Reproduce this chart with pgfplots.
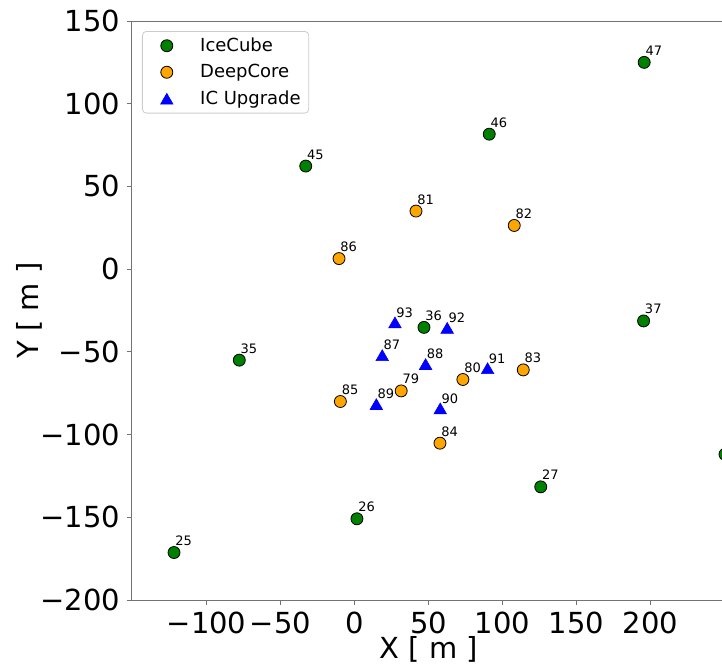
\documentclass[border=0pt]{standalone}
\usepackage{pgfplots}
\pgfplotsset{compat=1.18}
\usepackage{fontspec}
\setmainfont{DejaVu Sans}
\definecolor{mplgreen}{HTML}{008000}
\definecolor{mplorange}{HTML}{FFA500}
\definecolor{mplblue}{HTML}{0000FF}

\pgfplotstableread{
x y lab
-122.0 -171.3 25
1.6 -150.9 26
125.8 -131.6 27
-77.9 -55.0 35
46.9 -35.2 36
195.3 -31.3 37
-33.0 62.3 45
91.0 81.6 46
195.7 125.0 47
}\icecube

% string 38 sits on the cropped right edge, its label is outside the picture
\pgfplotstableread{
x y
250.3 -111.9
}\icecubeedge

\pgfplotstableread{
x y lab
31.5 -73.6 79
73.2 -66.7 80
41.5 35.1 81
107.9 26.4 82
114.0 -60.9 83
57.7 -105.2 84
-9.6 -80.0 85
-10.5 6.4 86
}\deepcore

\pgfplotstableread{
x y lab
18.7 -52.0 87
48.0 -57.4 88
14.7 -81.6 89
57.9 -84.2 90
89.9 -59.9 91
62.6 -35.5 92
27.3 -32.2 93
}\upgrade

\begin{document}
\begin{tikzpicture}
\begin{axis}[
  at={(0,0)}, anchor=south west,
  scale only axis, width=297pt, height=289.5pt,
  xmin=-150.4, xmax=251, ymin=-200, ymax=150,
  axis line style={black!55, line width=0.5pt},
  tick align=outside, tick pos=left,
  major tick length=2.5pt,
  tick style={black!55, line width=0.5pt},
  xtick={-100,-50,0,50,100,150,200},
  xticklabels={−100,−50,0,50,100,150,200},
  ytick={-200,-150,-100,-50,0,50,100,150},
  yticklabels={−200,−150,−100,−50,0,50,100,150},
  ticklabel style={font=\fontsize{14.5}{17}\selectfont},
  label style={font=\fontsize{14.5}{17}\selectfont},
  xlabel={X [ m ]}, ylabel={Y [ m ]},
  xlabel style={yshift=5.5pt},
  ylabel style={yshift=-8pt},
  clip=true,
  nodes near coords align={anchor=base west},
  nodes near coords style={anchor=base west, inner sep=0pt, xshift=0.5pt, yshift=3.5pt, font=\fontsize{6.5}{7.5}\selectfont, text=black},
  legend cell align=left,
  legend image code/.code={\draw[#1] plot coordinates {(0pt,0pt)}; \path (-10pt,0pt) (14.5pt,0pt);},
  legend style={at={(0,1)}, anchor=north west, xshift=5pt, yshift=-5pt,
    draw=black!20, rounded corners=2pt, fill=white,
    font=\fontsize{9}{11}\selectfont, row sep=1pt, inner xsep=2pt, inner ysep=1pt},
]
\addplot[only marks, color=black, mark=*, mark size=3pt,
  nodes near coords, point meta=explicit symbolic,
  mark options={fill=mplgreen, draw=black, line width=0.4pt}]
  table[x=x, y=y, meta=lab] {\icecube};
\addlegendentry{IceCube}
\addplot[only marks, color=black, mark=*, mark size=3pt,
  nodes near coords, point meta=explicit symbolic,
  mark options={fill=mplorange, draw=black, line width=0.4pt}]
  table[x=x, y=y, meta=lab] {\deepcore};
\addlegendentry{DeepCore}
\addplot[only marks, color=black, mark=triangle*, mark size=3.6pt,
  nodes near coords, point meta=explicit symbolic,
  mark options={fill=mplblue, draw=mplblue, line width=0.3pt, yshift=-0.9pt}]
  table[x=x, y=y, meta=lab] {\upgrade};
\addlegendentry{IC Upgrade}
\addplot[only marks, color=black, mark=*, mark size=3pt, forget plot,
  mark options={fill=mplgreen, draw=black, line width=0.4pt}]
  table[x=x, y=y] {\icecubeedge};
\end{axis}
\pgfresetboundingbox
\path[use as bounding box] (-66pt,-33pt) rectangle (295pt,300pt);
\end{tikzpicture}
\end{document}
